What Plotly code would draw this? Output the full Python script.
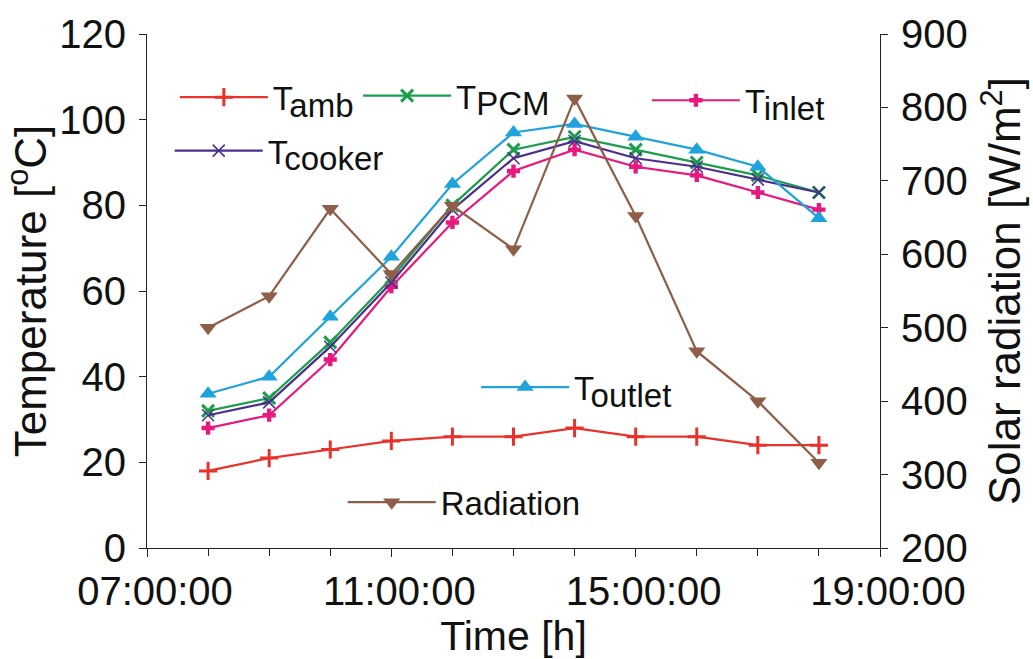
import plotly.graph_objects as go

hours = [8, 9, 10, 11, 12, 13, 14, 15, 16, 17, 18]
t_amb = [18, 21, 23, 25, 26, 26, 28, 26, 26, 24, 24]
t_pcm = [32, 35, 48, 63, 80, 93, 96, 93, 90, 87, 83]
t_cooker = [31, 34, 47, 62, 79, 91, 95, 91, 89, 86, 83]
t_inlet = [28, 31, 44, 61, 76, 88, 93, 89, 87, 83, 79]
t_outlet = [36, 40, 54, 68, 85, 97, 99, 96, 93, 89, 77]
radiation = [500, 543, 662, 573, 666, 607, 812, 652, 468, 400, 316]

x_tickvals = [7, 11, 15, 19]
x_ticktext = ["07:00:00", "11:00:00", "15:00:00", "19:00:00"]

FONT = "Liberation Sans, Arial, sans-serif"

def sub(main, s):
    return f'{main}<sub><span style="font-size:33px">{s}</span></sub>'

fig = go.Figure()

series = [
    ("amb", t_amb, "#e8322b", "cross-thin", 13, 3, "legend"),
    ("PCM", t_pcm, "#1b9e4b", "x-thin", 12, 3, "legend2"),
    ("inlet", t_inlet, "#e8197e", "cross", 11, 0, "legend3"),
    ("cooker", t_cooker, "#4a2f8c", "x-thin", 12, 1.5, "legend4"),
    ("outlet", t_outlet, "#1fa3dc", "triangle-up", 15, 0, "legend5"),
]
for name, ys, col, sym, sz, lw, lg in series:
    fig.add_trace(go.Scatter(
        x=hours, y=ys, mode="lines+markers", name=sub("T", name),
        line=dict(color=col, width=2.2),
        marker=dict(symbol=sym, size=sz, color=col, line=dict(color=col, width=lw)),
        legend=lg, yaxis="y"))

fig.add_trace(go.Scatter(
    x=hours, y=radiation, mode="lines+markers", name="Radiation",
    line=dict(color="#8f5e48", width=2.2),
    marker=dict(symbol="triangle-down", size=15, color="#8f5e48"),
    legend="legend6", yaxis="y2"))

def leg(x, y):
    return dict(x=x, y=y, xanchor="left", yanchor="middle", bgcolor="rgba(0,0,0,0)",
                font=dict(family=FONT, size=33, color="#111"), itemwidth=88,
                borderwidth=0, tracegroupgap=0)

fig.update_layout(
    width=1033, height=659,
    margin=dict(l=147, r=153, t=32, b=111),
    paper_bgcolor="white", plot_bgcolor="white",
    font=dict(family=FONT, color="#111"),
    showlegend=True,
    legend=leg(0.038, 0.877),
    legend2=leg(0.288, 0.880),
    legend3=leg(0.682, 0.871),
    legend4=leg(0.031, 0.773),
    legend5=leg(0.449, 0.313),
    legend6=leg(0.267, 0.089),
    xaxis=dict(range=[7, 19], tickvals=x_tickvals, ticktext=x_ticktext,
               showgrid=False, zeroline=False, showline=True, linecolor="#222", linewidth=1.2,
               ticks="outside", ticklen=8, tickcolor="#222", ticklabelshift=8,
               minor=dict(dtick=1, tick0=7, ticks="outside", ticklen=7, tickcolor="#222"),
               tickfont=dict(size=40, family=FONT),
               title=dict(text="Time [h]", font=dict(size=41, family=FONT), standoff=0)),
    yaxis=dict(range=[0, 120], dtick=20, showgrid=False, zeroline=False, showline=True,
               linecolor="#222", linewidth=1.2, ticks="outside", ticklen=7, tickcolor="#222",
               ticklabelstandoff=5,
               tickfont=dict(size=40, family=FONT),
               title=dict(text="Temperature [<sup>o</sup>C]", font=dict(size=44, family=FONT), standoff=5)),
    yaxis2=dict(range=[200, 900], dtick=100, overlaying="y", side="right", showgrid=False,
                zeroline=False, showline=True, linecolor="#222", linewidth=1.2,
                ticks="outside", ticklen=7, tickcolor="#222", ticklabelstandoff=5,
                tickfont=dict(size=40, family=FONT),
                title=dict(text="Solar radiation [W/m<sup>2</sup>]", font=dict(size=44, family=FONT), standoff=22)),
)

fig.write_html("out.html")
